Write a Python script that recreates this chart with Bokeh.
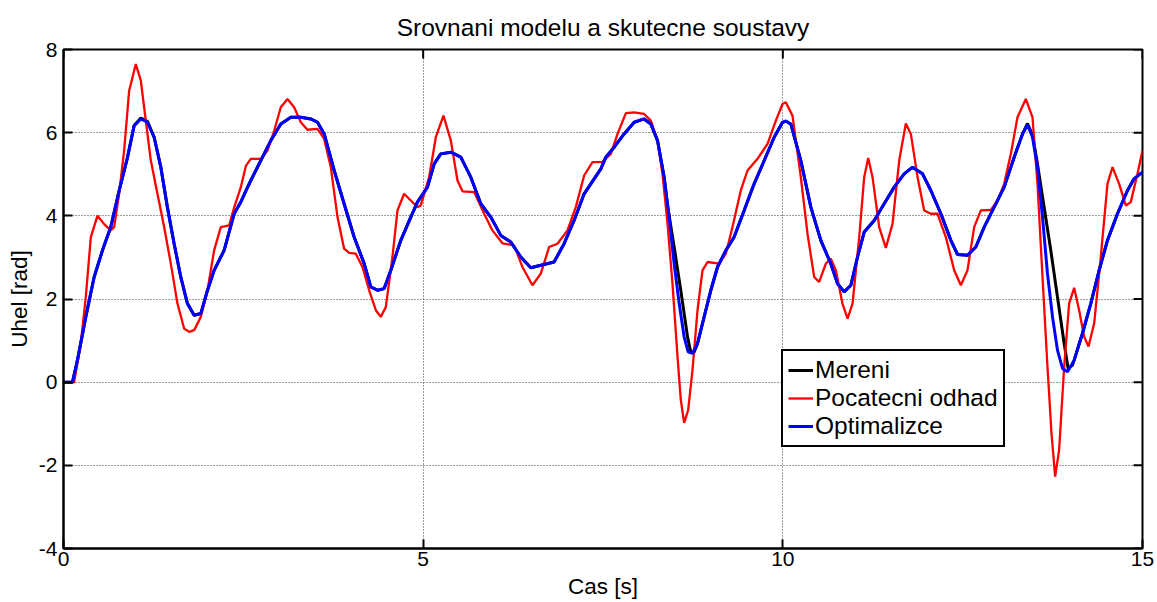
import math
from bokeh.plotting import figure
from bokeh.models import Range1d, FixedTicker, Legend, LegendItem
from bokeh.embed import file_html
from bokeh.resources import INLINE

# ---------------- data ----------------
x_ticks = [0, 5, 10, 15]
y_ticks = [-4, -2, 0, 2, 4, 6, 8]

# Optimalizce (blue)
t_opt = [0, 0.125, 0.194, 0.31, 0.426, 0.542, 0.657, 0.773, 0.889, 0.982, 1.075, 1.167,
         1.26, 1.353, 1.445, 1.538, 1.63, 1.723, 1.816, 1.909, 2.0, 2.094, 2.233, 2.372,
         2.465, 2.535, 2.604, 2.743, 2.882, 3.021, 3.16, 3.299, 3.438, 3.531, 3.624, 3.763,
         3.901, 4.04, 4.18, 4.272, 4.365, 4.458, 4.55, 4.689, 4.828, 4.92, 4.967, 5.06,
         5.153, 5.245, 5.385, 5.523, 5.662, 5.801, 5.94, 6.079, 6.218, 6.357, 6.496, 6.635,
         6.82, 6.959, 7.098, 7.238, 7.377, 7.47, 7.539, 7.655, 7.794, 7.933, 8.072, 8.165,
         8.258, 8.35, 8.42, 8.489, 8.559, 8.628, 8.684, 8.744, 8.814, 8.906, 8.999, 9.092,
         9.208, 9.323, 9.462, 9.601, 9.741, 9.88, 9.996, 10.04, 10.111, 10.25, 10.389,
         10.528, 10.667, 10.76, 10.853, 10.946, 11.038, 11.131, 11.27, 11.409, 11.548,
         11.687, 11.803, 11.942, 12.058, 12.197, 12.336, 12.429, 12.567, 12.683, 12.799,
         12.938, 13.077, 13.216, 13.332, 13.401, 13.471, 13.54, 13.61, 13.679, 13.749,
         13.818, 13.888, 13.957, 14.05, 14.165, 14.281, 14.397, 14.513, 14.652, 14.791,
         14.883, 14.976, 15.0]
y_opt = [0, 0, 0.53, 1.57, 2.53, 3.17, 3.73, 4.6, 5.4, 6.17, 6.33, 6.25,
         5.89, 5.17, 4.2, 3.33, 2.53, 1.89, 1.61, 1.65, 2.2, 2.69, 3.17, 4.05,
         4.33, 4.6, 4.85, 5.33, 5.81, 6.21, 6.37, 6.37, 6.33, 6.25, 5.97, 5.09,
         4.29, 3.49, 2.85, 2.29, 2.21, 2.25, 2.69, 3.41, 3.97, 4.33, 4.45, 4.69,
         5.25, 5.49, 5.53, 5.41, 4.93, 4.29, 3.97, 3.53, 3.37, 3.01, 2.75, 2.81,
         2.89, 3.33, 3.89, 4.53, 4.89, 5.13, 5.41, 5.65, 5.97, 6.25, 6.33, 6.21,
         5.81, 4.93, 3.97, 2.85, 1.89, 1.09, 0.73, 0.69, 0.93, 1.57, 2.21, 2.77,
         3.17, 3.49, 4.13, 4.77, 5.33, 5.89, 6.25, 6.28, 6.21, 5.33, 4.21,
         3.41, 2.85, 2.37, 2.17, 2.33, 3.01, 3.61, 3.89, 4.29, 4.69,
         5.01, 5.17, 5.01, 4.61, 4.05, 3.41, 3.07, 3.05, 3.25, 3.73,
         4.21, 4.69, 5.41, 5.97, 6.19, 5.89, 5.17, 3.97, 2.61, 1.57,
         0.77, 0.33, 0.25, 0.53, 1.17, 1.89, 2.69, 3.41, 4.05, 4.61,
         4.89, 5.02, 5.04]

# Mereni (black) - follows the optimised model except on the two fast drops
t_meas = [0, 0.125, 0.194, 0.31, 0.426, 0.542, 0.657, 0.773, 0.889, 0.982, 1.075, 1.167,
          1.26, 1.353, 1.445, 1.538, 1.63, 1.723, 1.816, 1.909, 2.0, 2.094, 2.233, 2.372,
          2.465, 2.535, 2.604, 2.743, 2.882, 3.021, 3.16, 3.299, 3.438, 3.531, 3.624, 3.763,
          3.901, 4.04, 4.18, 4.272, 4.365, 4.458, 4.55, 4.689, 4.828, 4.92, 4.967, 5.06,
          5.153, 5.245, 5.385, 5.523, 5.662, 5.801, 5.94, 6.079, 6.218, 6.357, 6.496, 6.635,
          6.82, 6.959, 7.098, 7.238, 7.377, 7.47, 7.539, 7.655, 7.794, 7.933, 8.072, 8.165,
          8.258, 8.35, 8.397, 8.489, 8.582, 8.675, 8.72, 8.767, 8.814, 8.906, 8.999, 9.092,
          9.208, 9.323, 9.462, 9.601, 9.741, 9.88, 9.996, 10.04, 10.111, 10.25, 10.389,
          10.528, 10.667, 10.76, 10.853, 10.946, 11.038, 11.131, 11.27, 11.409, 11.548,
          11.687, 11.803, 11.942, 12.058, 12.197, 12.336, 12.429, 12.567, 12.683, 12.799,
          12.938, 13.077, 13.216, 13.332, 13.401, 13.471, 13.54, 13.633, 13.725, 13.818,
          13.911, 13.966, 14.027, 14.05, 14.165, 14.281, 14.397, 14.513, 14.652, 14.791,
          14.883, 14.976, 15.0]
y_meas = [0, 0, 0.53, 1.57, 2.53, 3.17, 3.73, 4.6, 5.4, 6.17, 6.35, 6.27,
          5.89, 5.17, 4.2, 3.33, 2.53, 1.89, 1.61, 1.65, 2.2, 2.69, 3.17, 4.05,
          4.33, 4.6, 4.85, 5.33, 5.81, 6.21, 6.37, 6.37, 6.33, 6.25, 5.97, 5.09,
          4.29, 3.49, 2.85, 2.29, 2.21, 2.25, 2.69, 3.41, 3.97, 4.33, 4.45, 4.69,
          5.25, 5.49, 5.53, 5.41, 4.93, 4.29, 3.97, 3.53, 3.37, 3.01, 2.75, 2.81,
          2.89, 3.33, 3.89, 4.53, 4.89, 5.13, 5.41, 5.65, 5.97, 6.25, 6.33, 6.21,
          5.81, 4.93, 4.25, 3.25, 2.2, 1.09, 0.73, 0.72, 0.93, 1.57, 2.21, 2.77,
          3.17, 3.49, 4.13, 4.77, 5.33, 5.89, 6.25, 6.28, 6.21, 5.33, 4.21,
          3.41, 2.85, 2.37, 2.17, 2.33, 3.01, 3.61, 3.89, 4.29, 4.69,
          5.01, 5.17, 5.01, 4.61, 4.05, 3.41, 3.07, 3.05, 3.25, 3.73,
          4.21, 4.69, 5.41, 5.97, 6.22, 5.95, 5.25, 4.2, 3.17, 2.05,
          0.93, 0.33, 0.41, 0.53, 1.17, 1.89, 2.69, 3.41, 4.05, 4.61,
          4.89, 5.02, 5.04]

# Pocatecni odhad (red)
t_init = [0, 0.148, 0.241, 0.31, 0.38, 0.472, 0.565, 0.657, 0.704, 0.773, 0.843, 0.912,
          1.005, 1.075, 1.144, 1.214, 1.306, 1.399, 1.492, 1.584, 1.677, 1.747, 1.816,
          1.909, 2.001, 2.094, 2.187, 2.303, 2.372, 2.465, 2.535, 2.604, 2.743, 2.836,
          2.929, 3.021, 3.114, 3.206, 3.299, 3.391, 3.531, 3.624, 3.716, 3.809, 3.901,
          3.971, 4.063, 4.156, 4.249, 4.342, 4.411, 4.481, 4.573, 4.643, 4.735, 4.828,
          4.92, 4.967, 5.083, 5.176, 5.282, 5.385, 5.477, 5.547, 5.709, 5.848, 5.963,
          6.102, 6.265, 6.38, 6.519, 6.635, 6.751, 6.867, 7.006, 7.122, 7.238, 7.354,
          7.493, 7.609, 7.702, 7.818, 7.933, 8.072, 8.165, 8.258, 8.327, 8.397, 8.466,
          8.536, 8.582, 8.628, 8.684, 8.744, 8.814, 8.883, 8.953, 9.115, 9.208, 9.3,
          9.416, 9.509, 9.648, 9.787, 9.903, 9.996, 10.041, 10.134, 10.25, 10.343,
          10.436, 10.505, 10.598, 10.667, 10.737, 10.829, 10.9, 10.969, 11.062, 11.131,
          11.187, 11.247, 11.34, 11.432, 11.525, 11.618, 11.71, 11.78, 11.873, 11.965,
          12.058, 12.15, 12.266, 12.382, 12.475, 12.567, 12.66, 12.753, 12.892, 12.985,
          13.077, 13.17, 13.262, 13.378, 13.471, 13.54, 13.61, 13.679, 13.735, 13.786,
          13.841, 13.911, 13.98, 14.05, 14.119, 14.189, 14.249, 14.328, 14.42, 14.513,
          14.583, 14.675, 14.768, 14.837, 14.93, 15.0]
y_init = [0, 0, 0.93, 2.05, 3.49, 4.0, 3.8, 3.65, 3.73, 4.53, 5.57, 7.0,
          7.65, 7.25, 6.29, 5.33, 4.53, 3.73, 2.85, 1.89, 1.29, 1.21, 1.25,
          1.57, 2.2, 3.17, 3.73, 3.77, 4.2, 4.69, 5.2, 5.37, 5.37, 5.57,
          6.05, 6.61, 6.81, 6.61, 6.25, 6.07, 6.09, 5.85, 5.17, 3.97, 3.21,
          3.11, 3.09, 2.77, 2.21, 1.73, 1.57, 1.81, 3.01, 4.13, 4.53, 4.37,
          4.21, 4.25, 4.93, 5.89, 6.41, 5.81, 4.85, 4.59, 4.57, 4.05, 3.65,
          3.34, 3.29, 2.77, 2.33, 2.61, 3.25, 3.33, 3.65, 4.21, 4.97, 5.29,
          5.3, 5.49, 5.97, 6.47, 6.49, 6.45, 6.29, 5.81, 5.01, 3.81, 2.37,
          0.61, -0.43, -0.98, -0.67, 0.29, 1.73, 2.69, 2.89, 2.85, 3.09, 3.73,
          4.61, 5.09, 5.37, 5.73, 6.29, 6.69, 6.73, 6.41, 4.93, 3.57,
          2.53, 2.41, 2.85, 2.97, 2.69, 1.89, 1.53, 1.89, 3.49, 4.93,
          5.39, 4.93, 3.73, 3.23, 3.81, 5.33, 6.22, 5.97, 4.93, 4.13,
          4.05, 4.05, 3.49, 2.69, 2.33, 2.69, 3.73, 4.13, 4.14, 4.37,
          4.77, 5.49, 6.37, 6.81, 6.37, 4.77, 2.53, 0.37, -1.23, -2.27,
          -1.63, 0.37, 1.89, 2.27, 1.73, 1.09, 0.86, 1.41, 3.01, 4.77,
          5.17, 4.77, 4.25, 4.33, 5.01, 5.57]

title_text = "Srovnani modelu a skutecne soustavy"
x_label = "Cas [s]"
y_label = "Uhel [rad]"
series_names = ["Mereni", "Pocatecni odhad", "Optimalizce"]
series_colors = ["#000000", "#ff0000", "#0000ff"]

FONT = "Liberation Sans"
X0, X1, Y0, Y1 = 0, 15, -4, 8

# ---------------- figure ----------------
p = figure(width=1155, height=601, output_backend="svg", toolbar_location=None,
           x_range=Range1d(X0, X1), y_range=Range1d(Y0, Y1),
           min_border_left=63, min_border_right=13, min_border_top=49,
           min_border_bottom=53, background_fill_color="white",
           border_fill_color="white")

p.title.text = title_text
p.title.align = "center"
p.title.text_font = FONT
p.title.text_font_size = "24.5px"
p.title.text_font_style = "normal"
p.title.text_color = "black"
p.title.standoff = 18

p.outline_line_color = "black"
p.outline_line_width = 2
p.outline_line_alpha = 1

xt = FixedTicker(ticks=x_ticks, minor_ticks=[])
yt = FixedTicker(ticks=y_ticks, minor_ticks=[])

for ax in p.xaxis:
    ax.ticker = xt
    ax.axis_label = x_label
for ax in p.yaxis:
    ax.ticker = yt
    ax.axis_label = y_label
    ax.major_label_overrides = {v: str(v) for v in y_ticks}

for ax in list(p.xaxis) + list(p.yaxis):
    ax.axis_label_text_font = FONT
    ax.axis_label_text_font_size = "22.5px"
    ax.axis_label_text_font_style = "normal"
    ax.axis_label_text_color = "black"
    ax.major_label_text_font = FONT
    ax.major_label_text_font_size = "21px"
    ax.major_label_text_color = "black"
    ax.major_tick_in = 9
    ax.major_tick_out = 0
    ax.major_tick_line_width = 2
    ax.major_tick_line_color = "black"
    ax.minor_tick_line_color = None
    ax.axis_line_width = 2
    ax.axis_line_color = "black"

p.xaxis.major_label_standoff = 3
p.xaxis.axis_label_standoff = 5
p.yaxis.major_label_standoff = 6
p.yaxis.axis_label_standoff = 4

p.xgrid.ticker = xt
p.ygrid.ticker = yt
for g in (p.xgrid, p.ygrid):
    g.grid_line_color = "#3a3a3a"
    g.grid_line_dash = "1 2"
    g.grid_line_width = 1

r_meas = p.line(t_meas, y_meas, line_color=series_colors[0], line_width=3)
r_init = p.line(t_init, y_init, line_color=series_colors[1], line_width=2.3)
r_opt = p.line(t_opt, y_opt, line_color=series_colors[2], line_width=3)

# inward ticks on the right and top edges of the box (MATLAB "box on")
p.ray(x=[X1] * len(y_ticks), y=y_ticks, length=9, length_units="screen",
      angle=math.pi, line_color="black", line_width=2)
p.ray(x=x_ticks, y=[Y1] * len(x_ticks), length=9, length_units="screen",
      angle=-math.pi / 2, line_color="black", line_width=2)

legend = Legend(items=[LegendItem(label=series_names[0], renderers=[r_meas]),
                       LegendItem(label=series_names[1], renderers=[r_init]),
                       LegendItem(label=series_names[2], renderers=[r_opt])],
                location=(718, 101))
legend.label_text_font = FONT
legend.label_text_font_size = "24.5px"
legend.label_text_color = "black"
legend.glyph_width = 25
legend.glyph_height = 28
legend.label_height = 28
legend.label_standoff = 2
legend.padding = 5
legend.spacing = 0
legend.margin = 0
legend.border_line_color = "black"
legend.border_line_width = 2
legend.border_line_alpha = 1
legend.background_fill_color = "white"
legend.background_fill_alpha = 1
p.add_layout(legend)

open("out.html", "w").write(file_html(p, INLINE))
